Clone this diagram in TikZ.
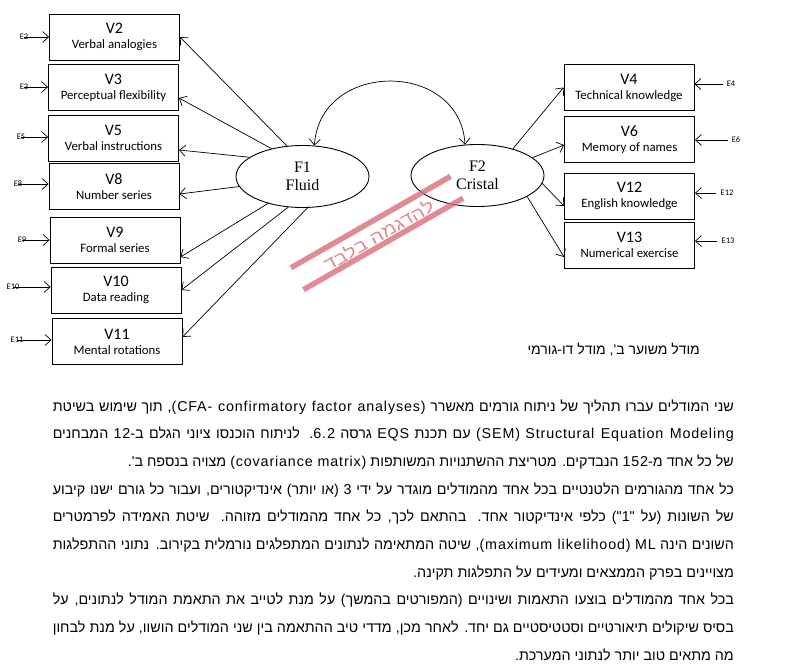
\documentclass[tikz,border=0pt]{standalone}
\usepackage{fontspec}
\setmainfont{Carlito}
\newfontfamily\hebfont[Script=Hebrew]{Liberation Sans}
\newfontfamily\wmfont[Script=Hebrew,FakeStretch=1.2]{Liberation Sans}
\newfontfamily\latfont[LetterSpace=6]{Liberation Sans}
\newfontfamily\timesfont{Liberation Serif}
\TeXXeTstate=1
\usetikzlibrary{arrows.meta,calc,shapes.geometric}
\definecolor{wmcol}{RGB}{216,111,121}
\newcommand\po{\beginL(\endL}
\newcommand\pc{\beginL)\endL}
\newcommand\lt[1]{\beginL{\latfont #1}\endL}
\newcommand\jl[1]{\hbox to 681pt{\beginR #1\endR}}
\newcommand\rl[1]{\hbox to 681pt{\hfill\beginR #1\endR}}
\newcommand\vlab[2]{{\fontsize{16}{16}\selectfont #1}\\[1pt]#2}
\begin{document}
\begin{tikzpicture}[x=1pt,y=-1pt,
  vbox/.style={draw, line width=0.9pt, minimum width=130pt, minimum height=46pt, inner sep=0pt, align=center, font=\fontsize{12.8}{14}\selectfont},
  fac/.style={draw, ellipse, line width=0.9pt, minimum width=133pt, minimum height=62pt, inner sep=0pt, align=center, font=\timesfont\fontsize{16}{18}\selectfont},
  elab/.style={inner sep=0pt, font=\fontsize{8.5}{10}\selectfont},
  arr/.style={line width=0.7pt, -{Straight Barb[length=6pt,width=11pt]}},
  hline/.style={inner sep=0pt, anchor=base east, font=\hebfont\fontsize{14.3}{17}\selectfont}
]
\useasboundingbox (0,0) rectangle (786,669);
% left boxes
\node[vbox] (V2) at (114.5,37) {\vlab{V2}{Verbal analogies}};
\node[vbox] (V3) at (113.5,87.5) {\vlab{V3}{Perceptual flexibility}};
\node[vbox] (V5) at (113.5,138) {\vlab{V5}{Verbal instructions}};
\node[vbox] (V8) at (114,186.5) {\vlab{V8}{Number series}};
\node[vbox] (V9) at (115,240) {\vlab{V9}{Formal series}};
\node[vbox] (V10) at (116,290) {\vlab{V10}{Data reading}};
\node[vbox] (V11) at (117,341.5) {\vlab{V11}{Mental rotations}};
% right boxes
\node[vbox] (V4) at (629,87.5) {\vlab{V4}{Technical knowledge}};
\node[vbox] (V6) at (629.5,139.5) {\vlab{V6}{Memory of names}};
\node[vbox] (V12) at (629.5,196) {\vlab{V12}{English knowledge}};
\node[vbox] (V13) at (629.5,245) {\vlab{V13}{Numerical exercise}};
% factors
\node[fac] (F1) at (302.5,176.5) {F1\\Fluid};
\node[fac] (F2) at (477.5,175.5) {F2\\Cristal};
% error labels left
\node[elab] (E2) at (24,37) {E2};
\node[elab] (E3) at (24,87) {E3};
\node[elab] (E5) at (21,137) {E5};
\node[elab] (E8) at (18,184) {E8};
\node[elab] (E9) at (22,240) {E9};
\node[elab] (E10) at (13,287) {E10};
\node[elab] (E11) at (17,340) {E11};
\foreach \e/\v in {E2/V2,E3/V3,E5/V5,E8/V8,E9/V9,E10/V10,E11/V11}
  \draw[arr] (\e.center) -- (\e -| \v.west);
% error labels right
\node[elab] (E4) at (731,84) {E4};
\node[elab] (E6) at (736,140) {E6};
\node[elab] (E12) at (727,193) {E12};
\node[elab] (E13) at (728,241) {E13};
\foreach \e/\v in {E4/V4,E6/V6,E12/V12,E13/V13}
  \draw[arr] ([xshift=-4pt]\e.west) -- (\e -| \v.east);
% loadings F1
\draw[arr] (F1.117) -- (V2.east);
\draw[arr] (F1.138) -- ($(V3.east)+(0,10.5)$);
\draw[arr] (F1.160.6) -- ($(V5.east)+(0,12)$);
\draw[arr] (F1.189) -- ($(V8.east)+(0,7.5)$);
\draw[arr] (F1.218.8) -- ($(V9.east)+(0,17)$);
\draw[arr] (F1.245) -- (V10.east);
\draw[arr] (F1.279.6) -- ($(V11.east)+(0,-4.5)$);
% loadings F2
\draw[arr] (F2.37.2) -- (V4.west);
\draw[arr] (F2.18.4) -- ($(V6.west)+(0,5.5)$);
\draw[arr] (F2.353.5) -- ($(V12.west)+(0,10)$);
\draw[arr] (F2.337) -- ($(V13.west)+(0,12)$);
% covariance
\draw[arr, {Straight Barb[length=6pt,width=11pt]}-{Straight Barb[length=6pt,width=11pt]}] (F1.69) .. controls (320,60) and (460,60) .. (F2.112);
% caption
\node[inner sep=0pt, anchor=east, font=\hebfont\fontsize{14}{16}\selectfont] (cap) at (700,350) {\beginR מודל משוער ב', מודל דו-גורמי\endR};
% watermark
\begin{scope}[shift={(377,233)}, rotate=29.8]
  \draw[wmcol, opacity=0.8, line width=5.5pt] (-92,-12.6) -- (92,-12.6);
  \draw[wmcol, opacity=0.8, line width=5.5pt] (-92,12.6) -- (92,12.6);
\end{scope}
\node[inner sep=0pt, rotate=29.8, text=wmcol, opacity=0.8, font=\wmfont\fontsize{17.5}{19}\selectfont] (wm) at (378.5,235) {\beginR להדגמה בלבד\endR};
% paragraph lines
\node[hline] (L1) at (734,411) {\jl{שני המודלים עברו תהליך של ניתוח גורמים מאשרר \lt{(CFA- confirmatory factor analyses)}, תוך שימוש בשיטת}};
\node[hline] (L2) at (734,438.7) {\jl{\lt{Structural Equation Modeling} \lt{(SEM)} עם תכנת \lt{EQS} גרסה \lt{6.2}. לניתוח הוכנסו ציוני הגלם ב-\lt{12} המבחנים}};
\node[hline] (L3) at (734,466.3) {\rl{של כל אחד מ-\lt{152} הנבדקים. מטריצת ההשתנויות המשותפות \lt{(covariance matrix)} מצויה בנספח ב'.}};
\node[hline] (L4) at (734,494) {\jl{כל אחד מהגורמים הלטנטיים בכל אחד מהמודלים מוגדר על ידי \lt{3} \po או יותר\pc{} אינדיקטורים, ועבור כל גורם ישנו קיבוע}};
\node[hline] (L5) at (734,521.7) {\jl{של השונות \po על "\lt{1}"\pc{} כלפי אינדיקטור אחד. בהתאם לכך, כל אחד מהמודלים מזוהה. שיטת האמידה לפרמטרים}};
\node[hline] (L6) at (734,549.3) {\jl{השונים הינה \lt{ML} \lt{(maximum likelihood)}, שיטה המתאימה לנתונים המתפלגים נורמלית בקירוב. נתוני ההתפלגות}};
\node[hline] (L7) at (734,577) {\rl{מצויינים בפרק הממצאים ומעידים על התפלגות תקינה.}};
\node[hline] (L8) at (734,604.7) {\jl{בכל אחד מהמודלים בוצעו התאמות ושינויים \po המפורטים בהמשך\pc{} על מנת לטייב את התאמת המודל לנתונים, על}};
\node[hline] (L9) at (734,632.3) {\jl{בסיס שיקולים תיאורטיים וסטטיסטיים גם יחד. לאחר מכן, מדדי טיב ההתאמה בין שני המודלים הושוו, על מנת לבחון}};
\node[hline] (L10) at (734,660) {\rl{מה מתאים טוב יותר לנתוני המערכת.}};
\end{tikzpicture}
\end{document}
